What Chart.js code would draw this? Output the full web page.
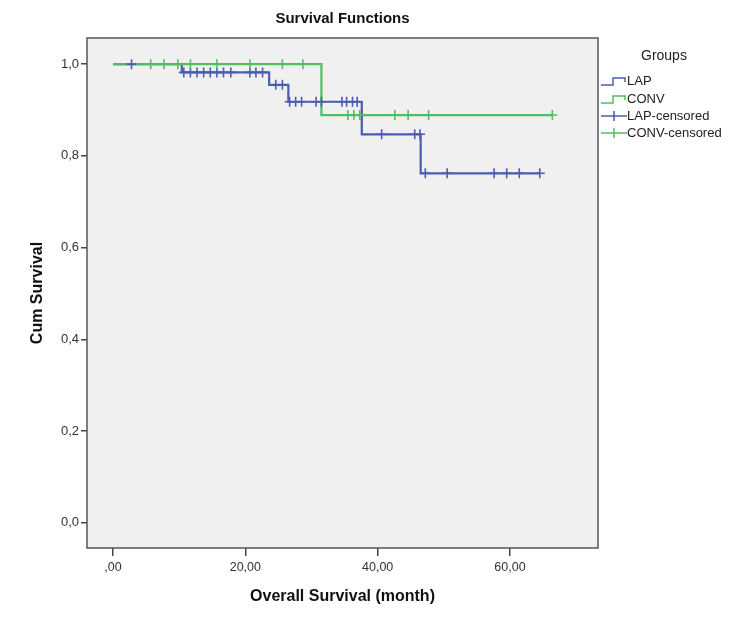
<!DOCTYPE html>
<html>
<head>
<meta charset="utf-8">
<script src="https://cdn.jsdelivr.net/npm/chart.js@4.4.1/dist/chart.umd.min.js"></script>
<style>
html,body{margin:0;padding:0;background:#fff;}
#c{display:block;}
</style>
</head>
<body>
<canvas id="c" width="750" height="620"></canvas>
<script>
// ---- Data ----
const lapTimes = [0, 10.4, 23.6, 26.5, 37.6, 46.5, 64.5];
const lapSurv  = [1.0, 0.982, 0.955, 0.918, 0.847, 0.762, 0.762];
const convTimes = [0, 31.5, 66.4];
const convSurv  = [1.0, 0.889, 0.889];
const lapCensored = [2.8, 10.7, 11.7, 12.7, 13.7, 14.7, 15.7, 16.7, 17.8, 20.7, 21.6, 22.6,
                     24.6, 25.6, 26.7, 27.6, 28.5, 30.7, 31.5, 34.6, 35.3, 36.2, 36.9,
                     40.6, 45.6, 46.4, 47.2, 50.5, 57.6, 59.5, 61.4, 64.5];
const convCensored = [5.7, 7.7, 9.8, 11.7, 15.7, 20.7, 25.6, 28.7,
                      35.5, 36.4, 37.3, 42.6, 44.6, 47.7, 66.4];
const xTickValues = [0, 20, 40, 60];
const xTickLabels = [',00', '20,00', '40,00', '60,00'];
const yTickValues = [0, 0.2, 0.4, 0.6, 0.8, 1.0];
const yTickLabels = ['0,0', '0,2', '0,4', '0,6', '0,8', '1,0'];
const seriesNames = ['LAP', 'CONV', 'LAP-censored', 'CONV-censored'];
const titleText = 'Survival Functions';
const xTitle = 'Overall Survival (month)';
const yTitle = 'Cum Survival';
const legendTitle = 'Groups';

const BLUE = '#4a5db0';
const GREEN = '#4fbf5f';
const FONT = '"Liberation Sans", Arial, sans-serif';

function survAt(times, surv, t) {
  let s = surv[0];
  for (let i = 0; i < times.length; i++) { if (times[i] <= t) s = surv[i]; }
  return s;
}
const toPts = (xs, ys) => xs.map((x, i) => ({x: x, y: ys[i]}));

const frame = {
  id: 'frame',
  beforeDraw(chart) {
    const {ctx, chartArea: a} = chart;
    ctx.save();
    ctx.fillStyle = '#fff';
    ctx.fillRect(0, 0, chart.width, chart.height);
    ctx.fillStyle = '#f0f0f0';
    ctx.fillRect(a.left, a.top, a.right - a.left, a.bottom - a.top);
    ctx.restore();
  },
  afterDraw(chart) {
    const {ctx, chartArea: a} = chart;
    ctx.save();
    ctx.strokeStyle = '#555';
    ctx.lineWidth = 1.5;
    ctx.strokeRect(a.left, a.top, a.right - a.left, a.bottom - a.top);
    // title
    ctx.fillStyle = '#111';
    ctx.textAlign = 'center';
    ctx.textBaseline = 'middle';
    ctx.font = 'bold 15px ' + FONT;
    ctx.fillText(titleText, (a.left + a.right) / 2, 19);
    // x title
    ctx.font = 'bold 16px ' + FONT;
    ctx.fillText(xTitle, (a.left + a.right) / 2, 597);
    // y title
    ctx.save();
    ctx.translate(38, (a.top + a.bottom) / 2);
    ctx.rotate(-Math.PI / 2);
    ctx.fillText(yTitle, 0, 0);
    ctx.restore();
    // legend
    ctx.font = '14px ' + FONT;
    ctx.fillStyle = '#222';
    ctx.textAlign = 'left';
    ctx.fillText(legendTitle, 641, 56);
    ctx.font = '13px ' + FONT;
    const ys = [81, 99, 116, 133];
    const cols = [BLUE, GREEN, BLUE, GREEN];
    for (let i = 0; i < 4; i++) {
      const y = ys[i];
      ctx.strokeStyle = cols[i];
      ctx.lineWidth = 1.5;
      ctx.beginPath();
      if (i < 2) {
        ctx.moveTo(601, y + 4); ctx.lineTo(613, y + 4); ctx.lineTo(613, y - 3);
        ctx.lineTo(625, y - 3); ctx.lineTo(625, y + 1);
      } else {
        ctx.moveTo(601, y); ctx.lineTo(627, y);
        ctx.moveTo(614, y - 5); ctx.lineTo(614, y + 5);
      }
      ctx.stroke();
      ctx.fillStyle = '#222';
      ctx.fillText(seriesNames[i], 627, y);
    }
    ctx.restore();
  }
};

new Chart(document.getElementById('c'), {
  data: {
    datasets: [
      { type: 'line', label: seriesNames[0], data: toPts(lapTimes, lapSurv), stepped: true,
        borderColor: BLUE, borderWidth: 2.2, pointRadius: 0, fill: false, order: 3 },
      { type: 'line', label: seriesNames[1], data: toPts(convTimes, convSurv), stepped: true,
        borderColor: GREEN, borderWidth: 2.2, pointRadius: 0, fill: false, order: 2 },
      { type: 'scatter', label: seriesNames[2],
        data: lapCensored.map(t => ({x: t, y: survAt(lapTimes, lapSurv, t)})),
        pointStyle: 'cross', pointRadius: 5, borderColor: BLUE, borderWidth: 1.6, order: 1 },
      { type: 'scatter', label: seriesNames[3],
        data: convCensored.map(t => ({x: t, y: survAt(convTimes, convSurv, t)})),
        pointStyle: 'cross', pointRadius: 5, borderColor: GREEN, borderWidth: 1.6, order: 0 }
    ]
  },
  options: {
    responsive: false,
    animation: false,
    events: [],
    layout: { padding: { left: 0, top: 38, right: 152, bottom: 0 } },
    plugins: { legend: { display: false }, title: { display: false }, tooltip: { enabled: false } },
    scales: {
      x: {
        type: 'linear', min: -3.93, max: 73.3,
        afterBuildTicks(s) { s.ticks = xTickValues.map(v => ({value: v})); },
        afterFit(s) { s.height = 72; },
        grid: { drawOnChartArea: false, drawTicks: true, tickLength: 8, color: '#444', lineWidth: 1.5 },
        border: { display: false },
        ticks: { padding: 4, color: '#333', font: { family: FONT, size: 12.5 },
                 maxRotation: 0, callback: (v) => xTickLabels[xTickValues.indexOf(v)] }
      },
      y: {
        type: 'linear', min: -0.055, max: 1.057,
        afterBuildTicks(s) { s.ticks = yTickValues.map(v => ({value: v})); },
        afterFit(s) { s.width = 87; },
        grid: { drawOnChartArea: false, drawTicks: true, tickLength: 6, color: '#444', lineWidth: 1.5 },
        border: { display: false },
        ticks: { padding: 2, color: '#333', font: { family: FONT, size: 13 },
                 callback: (v) => { const i = yTickValues.findIndex(t => Math.abs(t - v) < 1e-9); return yTickLabels[i]; } }
      }
    }
  },
  plugins: [frame]
});
</script>
</body>
</html>
